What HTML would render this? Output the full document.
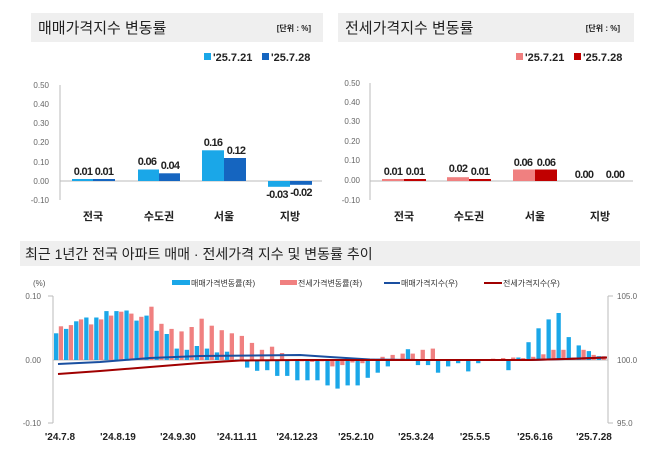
<!DOCTYPE html>
<html><head><meta charset="utf-8"><style>
html,body{margin:0;padding:0;background:#fff;}
svg text{font-family:"Liberation Sans","Noto Sans CJK KR",sans-serif;}
.v{letter-spacing:-0.7px;}
</style></head><body>
<svg id="s" width="658" height="451" viewBox="0 0 658 451" xmlns="http://www.w3.org/2000/svg">
<rect width="658" height="451" fill="#fff"/>
<!-- top-left -->
<rect x="31" y="13" width="292" height="29" fill="#efefef"/>
<text x="38" y="33" font-size="15" fill="#222">매매가격지수 변동률</text>
<text x="311" y="31" font-size="8" font-weight="bold" fill="#222" text-anchor="end">[단위 : %]</text>
<rect x="204" y="53" width="7" height="7" fill="#1aa7e8"/>
<text x="213" y="61" font-size="11" font-weight="bold" fill="#222">'25.7.21</text>
<rect x="262" y="53" width="7" height="7" fill="#1565c0"/>
<text x="271" y="61" font-size="11" font-weight="bold" fill="#222">'25.7.28</text>
<g font-size="8" fill="#666" text-anchor="end">
<text x="49" y="88">0.50</text><text x="49" y="107">0.40</text><text x="49" y="126">0.30</text><text x="49" y="145">0.20</text><text x="49" y="165">0.10</text><text x="49" y="184">0.00</text><text x="49" y="203">-0.10</text>
</g>
<line x1="60" y1="85" x2="60" y2="200" stroke="#bbb"/>
<line x1="60" y1="181" x2="322" y2="181" stroke="#bbb"/>
<rect x="72" y="179" width="21" height="2" fill="#1aa7e8"/><rect x="93" y="179" width="22" height="2" fill="#1565c0"/>
<rect x="138" y="169.5" width="21" height="11.5" fill="#1aa7e8"/><rect x="159" y="173.3" width="21" height="7.7" fill="#1565c0"/>
<rect x="202" y="150.3" width="22" height="30.7" fill="#1aa7e8"/><rect x="224" y="158" width="22" height="23" fill="#1565c0"/>
<rect x="268" y="181" width="22" height="5.8" fill="#1aa7e8"/><rect x="290" y="181" width="22" height="3.8" fill="#1565c0"/>
<g font-size="11" font-weight="bold" fill="#222" text-anchor="middle">
<g class="v">
<text x="83" y="175">0.01</text><text x="104" y="175">0.01</text>
<text x="147" y="165">0.06</text><text x="170" y="169">0.04</text>
<text x="213" y="146">0.16</text><text x="236" y="154">0.12</text>
<text x="277" y="198">-0.03</text><text x="301" y="196">-0.02</text>
</g>
<text x="93" y="220">전국</text><text x="159" y="220">수도권</text><text x="224" y="220">서울</text><text x="290" y="220">지방</text>
</g>
<!-- top-right -->
<rect x="338" y="13" width="296" height="29" fill="#efefef"/>
<text x="345" y="33" font-size="15" fill="#222">전세가격지수 변동률</text>
<text x="620" y="31" font-size="8" font-weight="bold" fill="#222" text-anchor="end">[단위 : %]</text>
<rect x="516" y="53" width="7" height="7" fill="#f08080"/>
<text x="525" y="61" font-size="11" font-weight="bold" fill="#222">'25.7.21</text>
<rect x="574" y="53" width="7" height="7" fill="#c00000"/>
<text x="583" y="61" font-size="11" font-weight="bold" fill="#222">'25.7.28</text>
<g font-size="8" fill="#666" text-anchor="end">
<text x="360" y="86">0.50</text><text x="360" y="105">0.40</text><text x="360" y="124">0.30</text><text x="360" y="144">0.20</text><text x="360" y="163">0.10</text><text x="360" y="183">0.00</text><text x="360" y="203">-0.10</text>
</g>
<line x1="370" y1="83" x2="370" y2="200" stroke="#bbb"/>
<line x1="370" y1="181" x2="633" y2="181" stroke="#bbb"/>
<rect x="382" y="179" width="22" height="2" fill="#f08080"/><rect x="404" y="179" width="22" height="2" fill="#c00000"/>
<rect x="447" y="177.2" width="22" height="3.8" fill="#f08080"/><rect x="469" y="179" width="22" height="2" fill="#c00000"/>
<rect x="513" y="169.5" width="22" height="11.5" fill="#f08080"/><rect x="535" y="169.5" width="22" height="11.5" fill="#c00000"/>
<g font-size="11" font-weight="bold" fill="#222" text-anchor="middle">
<g class="v">
<text x="393" y="175">0.01</text><text x="415" y="175">0.01</text>
<text x="458" y="172">0.02</text><text x="480" y="175">0.01</text>
<text x="523" y="166">0.06</text><text x="546" y="166">0.06</text>
<text x="584" y="178">0.00</text><text x="615" y="178">0.00</text>
</g>
<text x="404" y="220">전국</text><text x="469" y="220">수도권</text><text x="535" y="220">서울</text><text x="600" y="220">지방</text>
</g>
<!-- bottom -->
<rect x="20" y="241" width="620" height="25" fill="#efefef"/>
<text x="25" y="259" font-size="14" fill="#222">최근 1년간 전국 아파트 매매 · 전세가격 지수 및 변동률 추이</text>
<rect x="172" y="280" width="18" height="5" fill="#1aa7e8"/>
<text x="191" y="286" font-size="8" fill="#333">매매가격변동률(좌)</text>
<rect x="280" y="280" width="17" height="5" fill="#f08080"/>
<text x="298" y="286" font-size="8" fill="#333">전세가격변동률(좌)</text>
<line x1="384" y1="283" x2="400" y2="283" stroke="#1a4fa0" stroke-width="2"/>
<text x="401" y="286" font-size="8" fill="#333">매매가격지수(우)</text>
<line x1="484" y1="283" x2="502" y2="283" stroke="#a00000" stroke-width="2"/>
<text x="503" y="286" font-size="8" fill="#333">전세가격지수(우)</text>
<text x="33" y="286" font-size="8" fill="#555">(%)</text>
<g font-size="8" fill="#666" text-anchor="end">
<text x="41" y="299">0.10</text><text x="41" y="363">0.00</text><text x="41" y="426">-0.10</text>
</g>
<g font-size="8" fill="#666">
<text x="617" y="299">105.0</text><text x="617" y="363">100.0</text><text x="617" y="426">95.0</text>
</g>
<line x1="53" y1="296" x2="53" y2="423" stroke="#bbb"/>
<line x1="48" y1="296" x2="53" y2="296" stroke="#bbb"/><line x1="48" y1="423" x2="53" y2="423" stroke="#bbb"/>
<line x1="608" y1="296" x2="608" y2="423" stroke="#bbb"/>
<line x1="608" y1="296" x2="613" y2="296" stroke="#bbb"/><line x1="608" y1="423" x2="613" y2="423" stroke="#bbb"/>
<line x1="53" y1="360" x2="608" y2="360" stroke="#bbb"/>
<g id="bars"></g>
<path d="M58,364 L100,362 L150,358 L200,356 L300,355 L330,357 L370,359.5 L420,360 L530,360 L565,359 L607,357.5" fill="none" stroke="#1a4fa0" stroke-width="2"/>
<path d="M58,374 L100,371 L150,367 L200,363 L240,360.5 L300,360 L530,360 L565,359 L607,357.5" fill="none" stroke="#a00000" stroke-width="2"/>
<g font-size="10" font-weight="bold" fill="#222" text-anchor="middle">
<text x="60" y="440">'24.7.8</text><text x="118" y="440">'24.8.19</text><text x="178" y="440">'24.9.30</text><text x="237" y="440">'24.11.11</text><text x="297" y="440">'24.12.23</text><text x="356" y="440">'25.2.10</text><text x="416" y="440">'25.3.24</text><text x="475" y="440">'25.5.5</text><text x="535" y="440">'25.6.16</text><text x="594" y="440">'25.7.28</text>
</g>
</svg>
<script>
var B=[0.042,0.049,0.061,0.067,0.067,0.077,0.077,0.078,0.062,0.07,0.046,0.041,0.018,0.016,0.022,0.018,0.012,0.013,0.001,-0.012,-0.017,-0.016,-0.025,-0.025,-0.032,-0.032,-0.032,-0.04,-0.045,-0.04,-0.04,-0.028,-0.02,-0.01,0,0.017,-0.008,-0.008,-0.02,-0.01,-0.005,-0.018,-0.005,0,0,-0.016,0.004,0.028,0.05,0.064,0.074,0.036,0.023,0.014,0.006];
var R=[0.053,0.055,0.064,0.056,0.064,0.07,0.076,0.073,0.068,0.084,0.057,0.049,0.045,0.052,0.065,0.054,0.047,0.042,0.038,0.027,0.016,0.021,0.011,0,-0.002,-0.003,-0.002,-0.01,-0.008,-0.004,-0.005,0.002,0.005,0.008,0.01,0.01,0.016,0.018,0.001,0.001,0.001,0.001,0.001,0.002,0.003,0.004,0.003,0.005,0.009,0.016,0.016,0.004,0.016,0.008,0.006];
var g=document.getElementById('bars'),h='';
function r(x,v,c){var hh=Math.abs(v)*635;var y=v>=0?360-hh:360;h+='<rect x="'+x.toFixed(1)+'" y="'+y.toFixed(1)+'" width="4.3" height="'+hh.toFixed(1)+'" fill="'+c+'"/>';}
for(var k=0;k<B.length;k++){var x=54+k*10.05;r(x,B[k],'#1aa7e8');r(x+4.8,R[k],'#f08080');}
g.innerHTML=h;
</script>
</body></html>
